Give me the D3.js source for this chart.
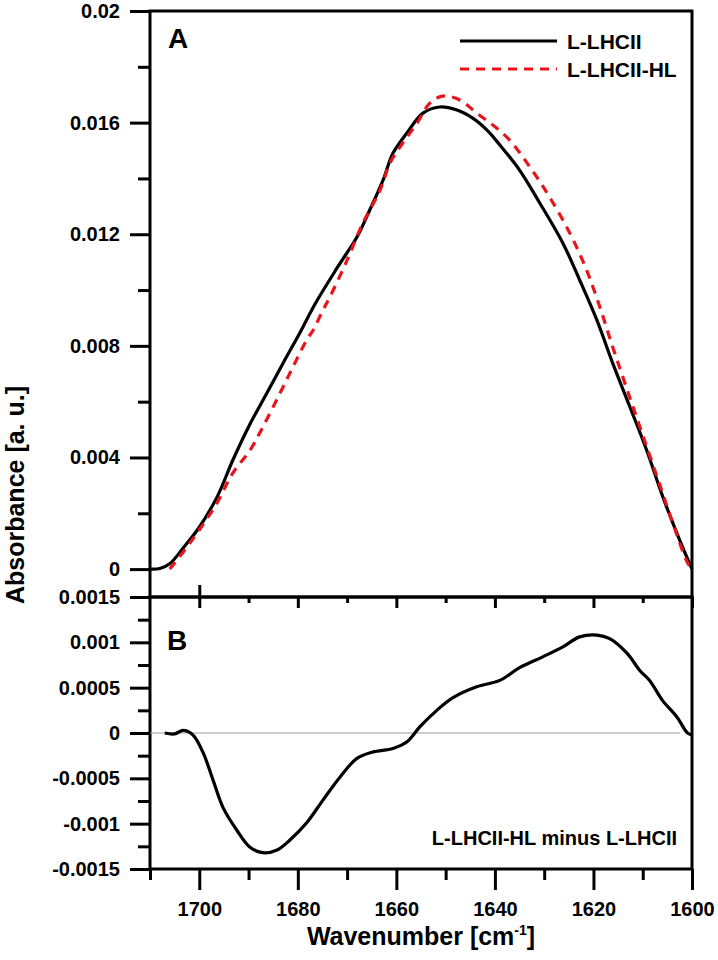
<!DOCTYPE html>
<html>
<head>
<meta charset="utf-8">
<script src="https://cdn.jsdelivr.net/npm/d3@7"></script>
<style>
  body { margin: 0; background: #fff; }
  svg { display: block; font-family: "Liberation Sans", Arial, sans-serif; font-weight: bold; }
</style>
</head>
<body>
<svg id="chart" width="718" height="960"></svg>
<script>
// L-LHCII (solid black)
const wnLhc = [1710, 1708, 1706, 1703.3, 1700, 1696.4, 1693.2, 1689.7, 1686.3, 1683, 1679.6, 1676.5,
  1672, 1668, 1665.4, 1662.7, 1660.7, 1657.9, 1654.6, 1651.2, 1647.7, 1644.5, 1641.6, 1639,
  1635, 1630.9, 1626.2, 1622.8, 1619.3, 1616.1, 1612.6, 1609.2, 1605.9, 1602.5, 1600];
const absLhc = [0, 0.00002, 0.00019, 0.00075, 0.0015, 0.00258, 0.0039, 0.0052, 0.0063, 0.00738, 0.00846, 0.0095,
  0.0108, 0.0119, 0.01287, 0.01394, 0.0149, 0.01562, 0.01634, 0.01656, 0.01645, 0.01616, 0.01573, 0.0152,
  0.0143, 0.01312, 0.01168, 0.01036, 0.00892, 0.00738, 0.00581, 0.00426, 0.00258, 0.00104, 0];

// L-LHCII-HL (red dashed)
const wnHl = [1706, 1705, 1702.5, 1700, 1696.4, 1693.2, 1689.7, 1687.1, 1683.6, 1681, 1678.2, 1676.9,
  1674.9, 1673.5, 1670, 1666.8, 1663.3, 1661.3, 1658.7, 1655.8, 1653.2, 1650.6, 1647.1, 1643.7,
  1640.4, 1637, 1632.9, 1628.9, 1624.8, 1621.4, 1618.7, 1616.1, 1613.2, 1610, 1606.5, 1603.9, 1601.1, 1600];
const absHl = [0, 0.00022, 0.00079, 0.0014, 0.00237, 0.00344, 0.00426, 0.00509, 0.00631, 0.00724, 0.00821, 0.00856,
  0.00928, 0.00975, 0.01107, 0.0124, 0.01358, 0.01455, 0.01527, 0.01598, 0.0167, 0.01695, 0.01681, 0.01634,
  0.01591, 0.01537, 0.01441, 0.01333, 0.01204, 0.01072, 0.00939, 0.00796, 0.00645, 0.0048, 0.003, 0.00165, 0.0003, -0.00003];

// difference spectrum, panel B
const wnDiff = [1707, 1705, 1703.3, 1701.3, 1699.2, 1697.2, 1695.2, 1692.4, 1689.7, 1687.1, 1684.2, 1681.6,
  1678.2, 1674.9, 1671.5, 1668, 1664.8, 1660.7, 1657.9, 1655.2, 1651.8, 1648.5, 1643.7, 1639,
  1635, 1630.3, 1626.2, 1622.8, 1619.3, 1616.7, 1613.2, 1610.6, 1608.6, 1606, 1603.1, 1600.9, 1600];
const absDiff = [0, -0.00001, 0.00003, -0.00002, -0.00022, -0.00052, -0.00082, -0.00107, -0.00126, -0.00132, -0.00129, -0.00118,
  -0.00099, -0.00074, -0.00049, -0.00028, -0.00021, -0.00017, -0.0001, 0.00007, 0.00025, 0.00039, 0.00051, 0.00058,
  0.00072, 0.00084, 0.00095, 0.00106, 0.00108, 0.00104, 0.00088, 0.00069, 0.00058, 0.00036, 0.00018, 0, -0.00002];

const xMajor = [1700, 1680, 1660, 1640, 1620, 1600];
const xMinor = [1710, 1690, 1670, 1650, 1630, 1610];
const yMajorA = [0, 0.004, 0.008, 0.012, 0.016, 0.02];
const yMinorA = [0.002, 0.006, 0.01, 0.014, 0.018];
const yMajorB = [-0.0015, -0.001, -0.0005, 0, 0.0005, 0.001, 0.0015];
const yMinorB = [-0.00125, -0.00075, -0.00025, 0.00025, 0.00075, 0.00125];

const seriesNames = ["L-LHCII", "L-LHCII-HL"];
const seriesColors = ["#000000", "#e8141b"];

const svg = d3.select("#chart");
const left = 150, right = 692, topA = 11, mid = 597, botB = 869;

const x = d3.scaleLinear().domain([1710, 1600]).range([left, right]);
const yA = d3.scaleLinear().domain([-0.001, 0.02]).range([mid, topA]);
const yB = d3.scaleLinear().domain([-0.0015, 0.0015]).range([botB, mid]);

// plain number labels with a hyphen minus, like the figure
const fmt = (v) => String(+v.toFixed(5));

function styleAxis(g, fontSize) {
  g.select(".domain").remove();
  g.selectAll(".tick line").attr("stroke", "#000").attr("stroke-width", 3);
  g.selectAll(".tick text").attr("fill", "#000").attr("font-size", fontSize).attr("font-weight", "bold")
    .attr("font-family", "'Liberation Sans', Arial, sans-serif");
}

// y axes, panel A
svg.append("g").attr("transform", `translate(${left},0)`)
  .call(d3.axisLeft(yA).tickValues(yMajorA).tickSize(20).tickPadding(10).tickFormat(fmt))
  .call((g) => styleAxis(g, 20));
svg.append("g").attr("transform", `translate(${left},0)`)
  .call(d3.axisLeft(yA).tickValues(yMinorA).tickSize(12).tickFormat(""))
  .call((g) => styleAxis(g, 20));

// y axes, panel B
svg.append("g").attr("transform", `translate(${left},0)`)
  .call(d3.axisLeft(yB).tickValues(yMajorB).tickSize(20).tickPadding(10).tickFormat(fmt))
  .call((g) => styleAxis(g, 20));
svg.append("g").attr("transform", `translate(${left},0)`)
  .call(d3.axisLeft(yB).tickValues(yMinorB).tickSize(12).tickFormat(""))
  .call((g) => styleAxis(g, 20));

// bottom x axis
svg.append("g").attr("transform", `translate(0,${botB})`)
  .call(d3.axisBottom(x).tickValues(xMajor).tickSize(21).tickPadding(12).tickFormat(d3.format("d")))
  .call((g) => styleAxis(g, 20));
svg.append("g").attr("transform", `translate(0,${botB})`)
  .call(d3.axisBottom(x).tickValues(xMinor).tickSize(11).tickFormat(""))
  .call((g) => styleAxis(g, 20));

// ticks on the shared middle line
svg.append("g").attr("transform", `translate(0,${mid})`)
  .call(d3.axisBottom(x).tickValues(xMajor).tickSize(11).tickFormat(""))
  .call((g) => styleAxis(g, 20));
svg.append("g").attr("transform", `translate(0,${mid})`)
  .call(d3.axisBottom(x).tickValues(xMinor.slice(1)).tickSize(6).tickFormat(""))
  .call((g) => styleAxis(g, 20));
svg.append("g").attr("transform", `translate(0,${mid})`)
  .call(d3.axisTop(x).tickValues([1700]).tickSize(12).tickFormat(""))
  .call((g) => styleAxis(g, 20));

// frames
[[topA, mid], [mid, botB]].forEach(([t, b]) => {
  svg.append("rect")
    .attr("x", left).attr("y", t).attr("width", right - left).attr("height", b - t)
    .attr("fill", "none").attr("stroke", "#000").attr("stroke-width", 3);
});

// zero reference in B
svg.append("line")
  .attr("x1", x(1710)).attr("x2", x(1602.4)).attr("y1", yB(0)).attr("y2", yB(0))
  .attr("stroke", "#999").attr("stroke-width", 1);

const lineA = d3.line().x((d) => x(d[0])).y((d) => yA(d[1])).curve(d3.curveCatmullRom.alpha(0.5));
const lineB = d3.line().x((d) => x(d[0])).y((d) => yB(d[1])).curve(d3.curveCatmullRom.alpha(0.5));

svg.append("path")
  .attr("d", lineA(d3.zip(wnLhc, absLhc)))
  .attr("fill", "none").attr("stroke", seriesColors[0]).attr("stroke-width", 3.2);
svg.append("path")
  .attr("d", lineA(d3.zip(wnHl, absHl)))
  .attr("fill", "none").attr("stroke", seriesColors[1]).attr("stroke-width", 3.2)
  .attr("stroke-dasharray", "9,7");
svg.append("path")
  .attr("d", lineB(d3.zip(wnDiff, absDiff)))
  .attr("fill", "none").attr("stroke", "#000").attr("stroke-width", 3.2);

// legend
const legend = svg.append("g");
seriesNames.forEach((name, i) => {
  const ly = 41 + i * 28;
  legend.append("line")
    .attr("x1", 460).attr("x2", 557).attr("y1", ly).attr("y2", ly)
    .attr("stroke", seriesColors[i]).attr("stroke-width", 3.2)
    .attr("stroke-dasharray", i === 1 ? "9,7" : null);
  legend.append("text")
    .attr("x", 567).attr("y", ly + 7.5)
    .attr("font-size", 21).text(name);
});

// panel letters and annotation
svg.append("text").attr("x", 168).attr("y", 48).attr("font-size", 28).text("A");
svg.append("text").attr("x", 167).attr("y", 650).attr("font-size", 28).text("B");
svg.append("text").attr("x", 677).attr("y", 845).attr("text-anchor", "end")
  .attr("font-size", 20).text("L-LHCII-HL minus L-LHCII");

// axis titles
svg.append("text")
  .attr("transform", "translate(24,495) rotate(-90)")
  .attr("text-anchor", "middle").attr("font-size", 25)
  .text("Absorbance [a. u.]");

const xt = svg.append("text")
  .attr("x", 421).attr("y", 945).attr("text-anchor", "middle").attr("font-size", 25);
xt.append("tspan").text("Wavenumber [cm");
xt.append("tspan").attr("font-size", 14).attr("dy", -10).text("-1");
xt.append("tspan").attr("dy", 10).text("]");
</script>
</body>
</html>
